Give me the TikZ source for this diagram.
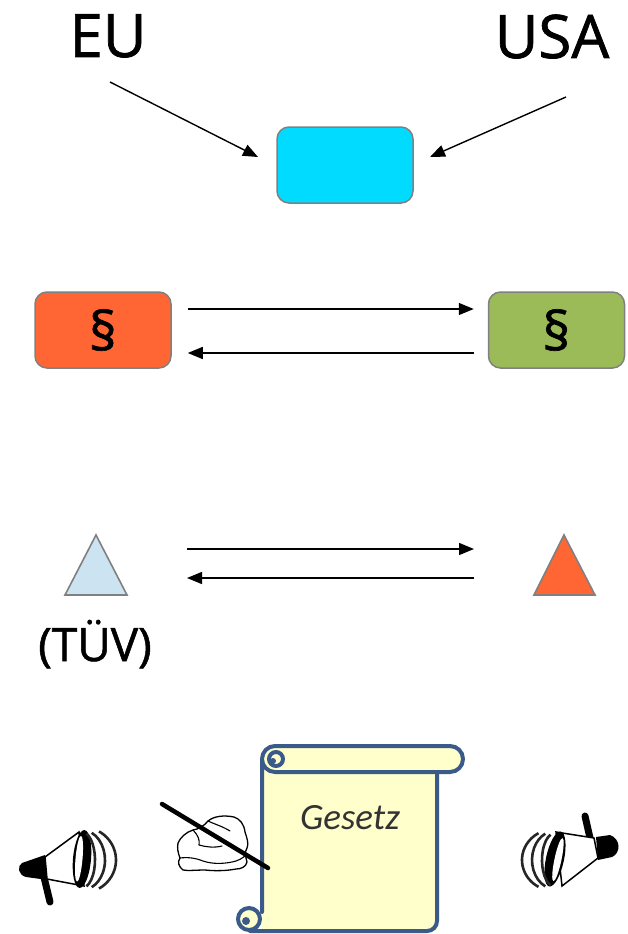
\documentclass[tikz,border=0pt]{standalone}
\usepackage{fontspec}
\setmainfont{Open Sans}
\newfontfamily\headfont[FakeBold=1.2]{Open Sans}
\newfontfamily\lawfont{Carlito}
\usetikzlibrary{arrows.meta}
\definecolor{boxcyan}{RGB}{0,219,255}
\definecolor{boxorange}{RGB}{255,102,51}
\definecolor{boxgreen}{RGB}{155,187,89}
\definecolor{trilight}{RGB}{204,228,242}
\definecolor{edgegray}{RGB}{128,128,128}
\definecolor{scrollblue}{RGB}{58,90,138}
\definecolor{scrollfill}{RGB}{255,255,204}
\tikzset{
  arr/.style={line width=1.4pt, -{Triangle[length=15pt,width=12pt]}},
  card/.style={draw=edgegray, line width=1.5pt, rounded corners=12pt,
    minimum width=136pt, minimum height=76pt, inner sep=0pt},
  tri/.style={draw=edgegray, line width=1.6pt, line join=miter},
  big/.style={font=\headfont\fontsize{60}{60}\selectfont, anchor=base},
  para/.style={font=\headfont\fontsize{54}{54}\selectfont},
  scrolledge/.style={draw=scrollblue, line width=4pt},
  wave/.style={line width=2.6pt, black!85},
}
\begin{document}
\begin{tikzpicture}[x=1pt,y=-1pt]
\useasboundingbox (0,0) rectangle (627,934);

% top: EU and USA feeding a common body
\node[big] (eu) at (108,57) {EU};
\node[big] (usa) at (552,58) {USA};
\node[card, fill=boxcyan] (joint) at (345,165) {};
\coordinate (euFrom) at (110,82);
\coordinate (euTo) at (258,157);
\coordinate (usFrom) at (566,97);
\coordinate (usTo) at (430,157);
\draw[arr] (euFrom) -- (euTo);
\draw[arr] (usFrom) -- (usTo);

% paragraphs exchanged both ways
\node[card, fill=boxorange, para] (lawEU) at (103,330) {\S};
\node[card, fill=boxgreen, para] (lawUS) at (556.5,330) {\S};
\draw[arr, shorten <=16pt, shorten >=14pt]
  ([yshift=21pt]lawEU.east) -- ([yshift=21pt]lawUS.west);
\draw[arr, shorten <=14pt, shorten >=16pt]
  ([yshift=-23pt]lawUS.west) -- ([yshift=-23pt]lawEU.east);

% testing bodies
\draw[tri, fill=trilight] (96,535) -- (127,595) -- (65,595) -- cycle;
\draw[tri, fill=boxorange] (564,535) -- (595,595) -- (534,595) -- cycle;
\coordinate (triL1) at (187,549);
\coordinate (triR1) at (474,549);
\coordinate (triR2) at (474,578);
\coordinate (triL2) at (187,578);
\draw[arr] (triL1) -- (triR1);
\draw[arr] (triR2) -- (triL2);
\node[font=\headfont\fontsize{46}{46}\selectfont, anchor=base] (tuev) at (95,661) {(TÜV)};

% scroll with the law
\fill[scrollfill] (262,765) rectangle (437,931);
\draw[scrolledge, line cap=round]
  (262,760) -- (262,912)
  (437,772) -- (437,921) arc[start angle=0, end angle=90, radius=10] -- (250,931);
\draw[scrolledge, fill=scrollfill, rounded corners=13pt] (262,746) rectangle (463,772);
\draw[scrolledge, fill=scrollfill] (276,759) circle (7);
\fill[scrollblue] (273,761) circle (3);
\draw[scrolledge, fill=scrollfill] (249,919) circle (11);
\fill[scrollblue] (246,921) circle (4);
\node[font=\lawfont\itshape\fontsize{37}{37}\selectfont, text=black!80] (gesetz) at (350,818) {Gesetz};

% writing hand
\draw[line width=1.3pt, fill=white, line join=round]
  (178,843) .. controls (180,838) and (186,832) .. (193,830)
  .. controls (199,829) and (204,826) .. (208,821)
  .. controls (214,816) and (224,815) .. (234,817)
  .. controls (240,819) and (244,824) .. (245,832)
  .. controls (247,838) and (249,844) .. (247,848)
  .. controls (244,852) and (246,858) .. (247,862)
  .. controls (246,867) and (241,869) .. (236,869)
  .. controls (226,871) and (214,871) .. (205,870)
  .. controls (196,870) and (188,871) .. (183,870)
  .. controls (179,867) and (177,862) .. (180,858)
  .. controls (178,853) and (177,848) .. cycle;
\draw[line width=1.1pt, line cap=round]
  (193,830) .. controls (198,835) and (200,840) .. (199,845)
  (208,821) .. controls (214,824) and (222,826) .. (230,831)
  (199,845) .. controls (206,847) and (214,848) .. (222,846)
  (180,858) .. controls (188,857) and (196,858) .. (203,861)
  (203,861) .. controls (212,864) and (222,864) .. (232,862)
  (232,862) .. controls (238,861) and (243,858) .. (246,855);
\draw[line width=4.5pt, line cap=round] (162,804) -- (268,868);

% megaphone on the left
\draw[line width=7pt, line cap=round] (44,877) -- (50,902);
\fill (22,863) -- (45,855) -- (48,880) -- (26,877)
  .. controls (18,875) and (17,866) .. cycle;
\draw[line width=1.5pt, fill=white] (45,857) -- (79,832) -- (84,886) -- (47,879) -- cycle;
\fill[rotate around={-5:(82,859)}] (82,859) ellipse[x radius=9, y radius=29];
\fill[white, rotate around={-5:(82,859)}] (79,859) ellipse[x radius=3.5, y radius=23];
\draw[wave] (82,860) ++(-70:13 and 28) arc[start angle=-70, end angle=70, x radius=13, y radius=28];
\draw[wave] (82,860) ++(-65:23 and 30) arc[start angle=-65, end angle=65, x radius=23, y radius=30];
\draw[wave] (82,860) ++(-60:34 and 33) arc[start angle=-60, end angle=60, x radius=34, y radius=33];

% megaphone on the right
\draw[line width=7pt, line cap=round] (590,838) -- (585,816);
\fill (596,837) -- (610,835) .. controls (621,839) and (621,853) .. (612,857) -- (598,860) -- cycle;
\draw[line width=1.5pt, fill=white] (556,832) -- (594,838) -- (598,858) -- (562,886) -- cycle;
\fill[rotate around={-12:(555,859)}] (555,859) ellipse[x radius=9, y radius=28];
\fill[white, rotate around={-12:(555,859)}] (558,859) ellipse[x radius=3.5, y radius=22];
\draw[wave] (555,860) ++(110:13 and 27) arc[start angle=110, end angle=250, x radius=13, y radius=27];
\draw[wave] (555,860) ++(115:23 and 29) arc[start angle=115, end angle=245, x radius=23, y radius=29];
\draw[wave] (555,860) ++(120:33 and 31) arc[start angle=120, end angle=240, x radius=33, y radius=31];
\end{tikzpicture}
\end{document}
